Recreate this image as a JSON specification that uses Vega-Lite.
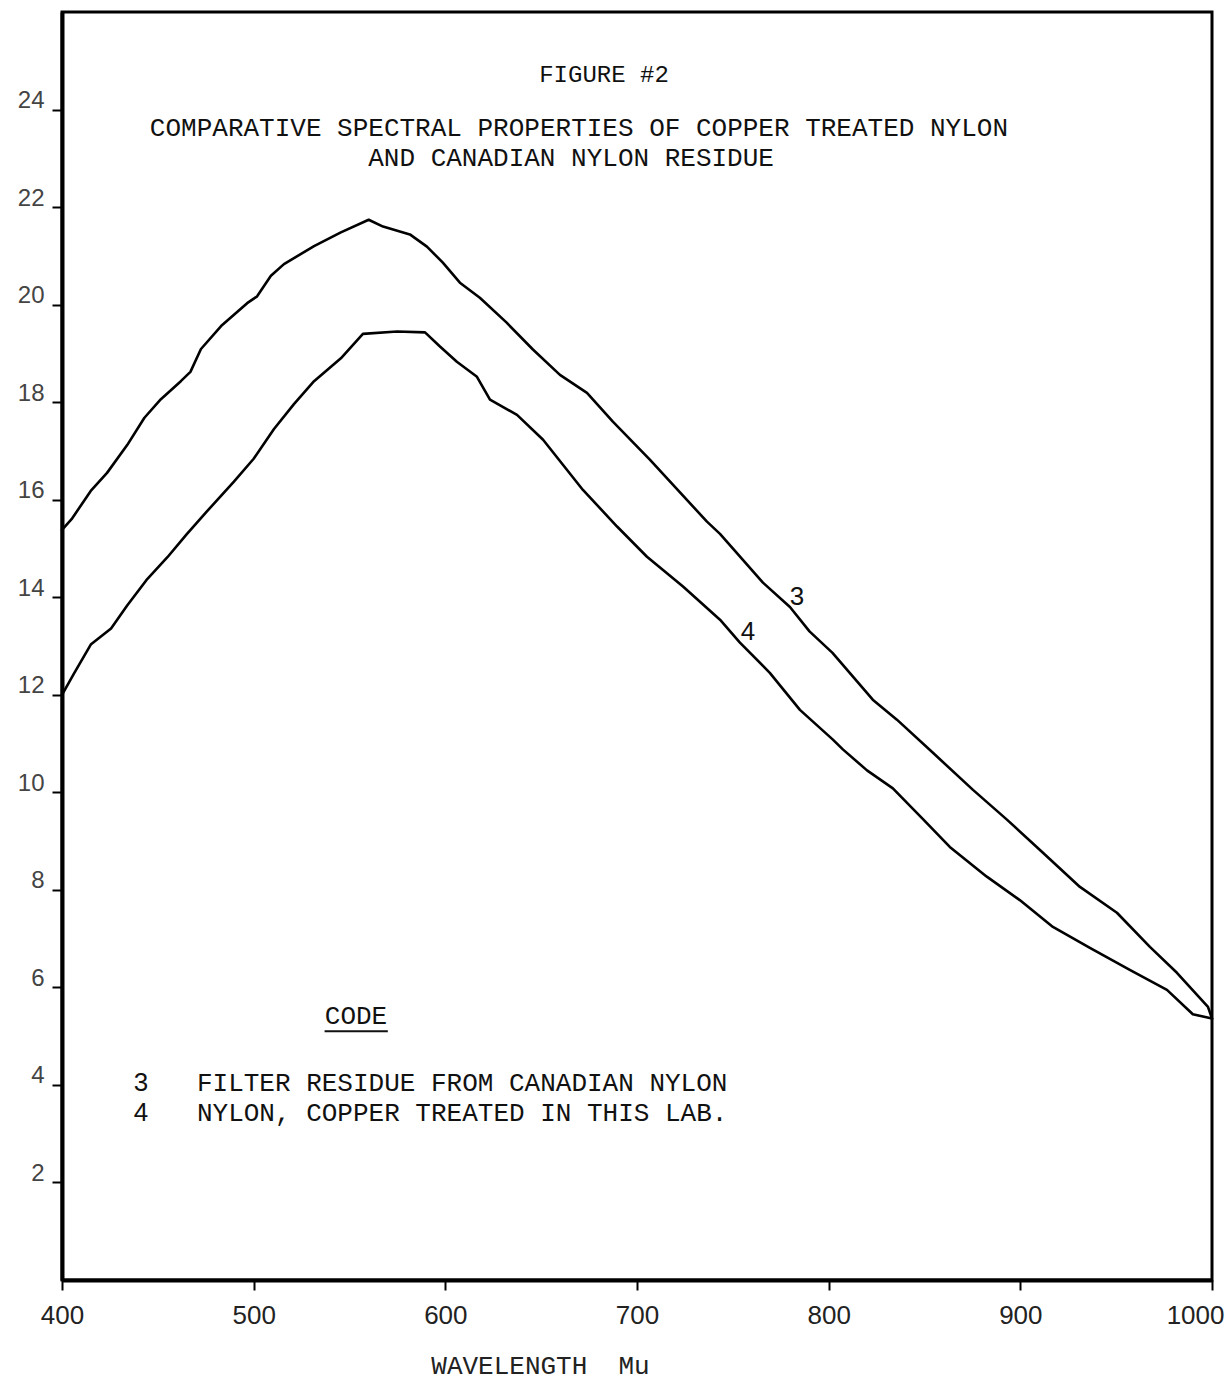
{
  "$schema": "https://vega.github.io/schema/vega-lite/v6.json",
  "width": 1150,
  "height": 1268,
  "autosize": "none",
  "padding": {"left": 62, "top": 12, "right": 18, "bottom": 113},
  "background": "white",
  "config": {"view": {"stroke": "black", "strokeWidth": 3}},
  "datasets": {
    "curves": [
      {"series": "3", "wl": 400, "v": 15.38}, {"series": "3", "wl": 405, "v": 15.6}, {"series": "3", "wl": 415, "v": 16.18},
      {"series": "3", "wl": 423.5, "v": 16.55}, {"series": "3", "wl": 434, "v": 17.12}, {"series": "3", "wl": 443, "v": 17.68},
      {"series": "3", "wl": 451.6, "v": 18.06}, {"series": "3", "wl": 462, "v": 18.43}, {"series": "3", "wl": 467, "v": 18.62},
      {"series": "3", "wl": 472.5, "v": 19.09}, {"series": "3", "wl": 483, "v": 19.56}, {"series": "3", "wl": 496.6, "v": 20.03},
      {"series": "3", "wl": 501.8, "v": 20.17}, {"series": "3", "wl": 509, "v": 20.59}, {"series": "3", "wl": 515.8, "v": 20.83},
      {"series": "3", "wl": 531.5, "v": 21.2}, {"series": "3", "wl": 545.5, "v": 21.48}, {"series": "3", "wl": 560, "v": 21.74},
      {"series": "3", "wl": 567.5, "v": 21.6}, {"series": "3", "wl": 581.5, "v": 21.44}, {"series": "3", "wl": 590.4, "v": 21.19},
      {"series": "3", "wl": 598.7, "v": 20.86}, {"series": "3", "wl": 607.6, "v": 20.45}, {"series": "3", "wl": 618, "v": 20.14},
      {"series": "3", "wl": 632, "v": 19.63}, {"series": "3", "wl": 645.7, "v": 19.08}, {"series": "3", "wl": 659.8, "v": 18.56},
      {"series": "3", "wl": 673.9, "v": 18.19}, {"series": "3", "wl": 687.4, "v": 17.6}, {"series": "3", "wl": 706.7, "v": 16.82},
      {"series": "3", "wl": 736.5, "v": 15.55}, {"series": "3", "wl": 743.3, "v": 15.3}, {"series": "3", "wl": 765.7, "v": 14.3},
      {"series": "3", "wl": 779.8, "v": 13.8}, {"series": "3", "wl": 790, "v": 13.3}, {"series": "3", "wl": 802, "v": 12.86},
      {"series": "3", "wl": 823, "v": 11.9}, {"series": "3", "wl": 835.6, "v": 11.49}, {"series": "3", "wl": 854.4, "v": 10.81},
      {"series": "3", "wl": 875.3, "v": 10.05}, {"series": "3", "wl": 893, "v": 9.44}, {"series": "3", "wl": 911.8, "v": 8.76},
      {"series": "3", "wl": 931.1, "v": 8.06}, {"series": "3", "wl": 950.4, "v": 7.53}, {"series": "3", "wl": 967.6, "v": 6.83},
      {"series": "3", "wl": 981.7, "v": 6.3}, {"series": "3", "wl": 997.9, "v": 5.6}, {"series": "3", "wl": 1000, "v": 5.36},
      {"series": "4", "wl": 400, "v": 12.0}, {"series": "4", "wl": 406, "v": 12.42}, {"series": "4", "wl": 415, "v": 13.03},
      {"series": "4", "wl": 425.6, "v": 13.36}, {"series": "4", "wl": 434, "v": 13.83}, {"series": "4", "wl": 444, "v": 14.35},
      {"series": "4", "wl": 455, "v": 14.82}, {"series": "4", "wl": 465, "v": 15.29}, {"series": "4", "wl": 475.6, "v": 15.76},
      {"series": "4", "wl": 489.7, "v": 16.37}, {"series": "4", "wl": 500, "v": 16.84}, {"series": "4", "wl": 510.6, "v": 17.45},
      {"series": "4", "wl": 521, "v": 17.96}, {"series": "4", "wl": 531.5, "v": 18.43}, {"series": "4", "wl": 545.5, "v": 18.9},
      {"series": "4", "wl": 557, "v": 19.4}, {"series": "4", "wl": 574.8, "v": 19.45}, {"series": "4", "wl": 589.4, "v": 19.43},
      {"series": "4", "wl": 597.2, "v": 19.14}, {"series": "4", "wl": 606, "v": 18.83}, {"series": "4", "wl": 616.5, "v": 18.52},
      {"series": "4", "wl": 623.3, "v": 18.05}, {"series": "4", "wl": 637.4, "v": 17.74}, {"series": "4", "wl": 651, "v": 17.23},
      {"series": "4", "wl": 671.8, "v": 16.2}, {"series": "4", "wl": 689.6, "v": 15.45}, {"series": "4", "wl": 705.2, "v": 14.83},
      {"series": "4", "wl": 724, "v": 14.22}, {"series": "4", "wl": 743.3, "v": 13.54}, {"series": "4", "wl": 753.7, "v": 13.07},
      {"series": "4", "wl": 769.3, "v": 12.45}, {"series": "4", "wl": 785, "v": 11.69}, {"series": "4", "wl": 802.2, "v": 11.08},
      {"series": "4", "wl": 807.4, "v": 10.88}, {"series": "4", "wl": 820, "v": 10.45}, {"series": "4", "wl": 833.5, "v": 10.08},
      {"series": "4", "wl": 849.2, "v": 9.45}, {"series": "4", "wl": 863.2, "v": 8.88}, {"series": "4", "wl": 882.5, "v": 8.27},
      {"series": "4", "wl": 899.7, "v": 7.79}, {"series": "4", "wl": 917, "v": 7.24}, {"series": "4", "wl": 936.3, "v": 6.81},
      {"series": "4", "wl": 957.1, "v": 6.36}, {"series": "4", "wl": 976.5, "v": 5.95}, {"series": "4", "wl": 990, "v": 5.45},
      {"series": "4", "wl": 1000, "v": 5.36}
    ],
    "figure": [{"text": "FIGURE #2", "wl": 682.8, "v": 24.7}],
    "heading": [
      {"text": "COMPARATIVE SPECTRAL PROPERTIES OF COPPER TREATED NYLON", "wl": 669.7, "v": 23.62},
      {"text": "AND CANADIAN NYLON RESIDUE", "wl": 665.6, "v": 23.0}
    ],
    "code": [{"text": "CODE", "wl": 553.4, "v": 5.42}],
    "codeline": [{"wl": 537, "wl2": 570, "v": 5.1}],
    "entries": [
      {"text": "FILTER RESIDUE FROM CANADIAN NYLON", "wl": 470.4, "v": 4.04},
      {"text": "NYLON, COPPER TREATED IN THIS LAB.", "wl": 470.4, "v": 3.43}
    ],
    "digits": [
      {"text": "3", "wl": 441.2, "v": 4.04},
      {"text": "4", "wl": 441.2, "v": 3.43},
      {"text": "3", "wl": 783.5, "v": 14.01},
      {"text": "4", "wl": 757.9, "v": 13.29}
    ]
  },
  "encoding": {
    "x": {
      "field": "wl", "type": "quantitative",
      "scale": {"domain": [400, 1000], "nice": false, "zero": false},
      "axis": {
        "values": [400, 500, 600, 700, 800, 900, 1000],
        "format": "d",
        "grid": false, "domainColor": "black", "domainWidth": 4,
        "tickColor": "black", "tickWidth": 2, "tickSize": 10,
        "labelFont": "Liberation Sans", "labelFontSize": 26, "labelColor": "#222",
        "labelPadding": 12, "labelFlush": false, "labelOverlap": false,
        "labelAlign": {"condition": {"test": "datum.value == 1000", "value": "right"}, "value": "center"},
        "labelOffset": {"condition": {"test": "datum.value == 1000", "value": 12}, "value": 0},
        "title": "WAVELENGTH\u00a0\u00a0Mu",
        "titleFont": "Liberation Mono", "titleFontSize": 26, "titleFontWeight": "normal", "titleColor": "#222",
        "titleX": 478, "titleY": 85, "titleAlign": "center", "titleBaseline": "middle"
      }
    },
    "y": {
      "field": "v", "type": "quantitative",
      "scale": {"domain": [0, 26], "nice": false, "zero": true},
      "axis": {
        "values": [2, 4, 6, 8, 10, 12, 14, 16, 18, 20, 22, 24],
        "grid": false, "domainColor": "black", "domainWidth": 4,
        "tickColor": "black", "tickWidth": 2, "tickSize": 10,
        "labelFont": "Liberation Sans", "labelFontSize": 24, "labelColor": "#444",
        "labelPadding": 8, "labelBaseline": "alphabetic", "labelOffset": -2,
        "labelOverlap": false, "labelFlush": false,
        "title": null
      }
    }
  },
  "layer": [
    {
      "data": {"name": "curves"},
      "mark": {"type": "line", "color": "black", "strokeWidth": 2.6, "strokeJoin": "round", "strokeCap": "round"},
      "encoding": {"detail": {"field": "series", "type": "nominal"}}
    },
    {
      "data": {"name": "figure"},
      "mark": {"type": "text", "font": "Liberation Mono", "fontSize": 24, "align": "center", "baseline": "middle", "color": "#111"},
      "encoding": {"text": {"field": "text", "type": "nominal"}}
    },
    {
      "data": {"name": "heading"},
      "mark": {"type": "text", "font": "Liberation Mono", "fontSize": 26, "align": "center", "baseline": "middle", "color": "#111"},
      "encoding": {"text": {"field": "text", "type": "nominal"}}
    },
    {
      "data": {"name": "code"},
      "mark": {"type": "text", "font": "Liberation Mono", "fontSize": 26, "align": "center", "baseline": "middle", "color": "#111"},
      "encoding": {"text": {"field": "text", "type": "nominal"}}
    },
    {
      "data": {"name": "codeline"},
      "mark": {"type": "rule", "color": "#111", "strokeWidth": 2},
      "encoding": {"x2": {"field": "wl2"}}
    },
    {
      "data": {"name": "entries"},
      "mark": {"type": "text", "font": "Liberation Mono", "fontSize": 26, "align": "left", "baseline": "middle", "color": "#111"},
      "encoding": {"text": {"field": "text", "type": "nominal"}}
    },
    {
      "data": {"name": "digits"},
      "mark": {"type": "text", "font": "Liberation Sans", "fontSize": 26, "align": "center", "baseline": "middle", "color": "#111"},
      "encoding": {"text": {"field": "text", "type": "nominal"}}
    }
  ]
}
